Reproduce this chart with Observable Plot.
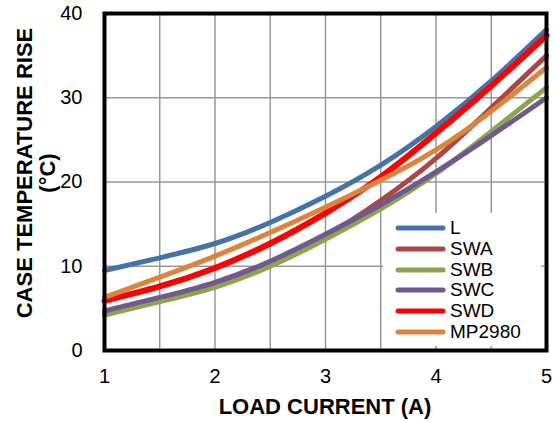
<!DOCTYPE html>
<html><head><meta charset="utf-8">
<script src="https://cdn.jsdelivr.net/npm/d3@7"></script>
<script src="https://cdn.jsdelivr.net/npm/@observablehq/plot@0.6"></script>
<style>
body{margin:0;background:#fff;font-family:Arial,"Liberation Sans",sans-serif;}
#wrap{position:relative;width:557px;height:423px;overflow:hidden;}
#xt{position:absolute;left:104px;width:442px;top:394px;text-align:center;font-weight:bold;font-size:22px;line-height:26px;color:#000;}
#yt{position:absolute;left:36px;top:173px;width:340px;transform:translate(-50%,-50%) rotate(-90deg);text-align:center;font-weight:bold;font-size:22px;line-height:23px;color:#000;}
#legend{position:absolute;left:383px;top:213px;width:158px;height:133px;background:#fff;}
.row{position:absolute;left:0;height:20px;display:flex;align-items:center;font-size:19px;color:#000;}
</style></head><body><div id="wrap"></div>
<script>
const current = [1, 1.5, 2, 2.5, 3, 3.5, 4, 4.5, 5];
const seriesNames = ["L", "SWA", "SWB", "SWC", "SWD", "MP2980"];
const L      = [9.5, 11.0, 12.7, 15.2, 18.3, 22.0, 26.6, 32.0, 38.1];
const SWA    = [4.3, 5.9, 7.7, 10.3, 13.6, 17.8, 22.8, 28.8, 35.0];
const SWB    = [4.2, 5.8, 7.5, 10.0, 13.2, 16.8, 21.0, 26.0, 31.2];
const SWC    = [4.7, 6.3, 8.1, 10.6, 13.8, 17.3, 21.2, 25.5, 30.0];
const SWD    = [5.9, 7.6, 9.8, 12.7, 16.3, 20.6, 25.8, 31.4, 37.4];
const MP2980 = [6.3, 8.7, 11.2, 14.0, 17.0, 20.2, 23.8, 28.4, 33.6];
const colors = ["#4572A7", "#AA4643", "#89A54E", "#71588F", "#FF0000", "#DB843D"];
const xTicks = [1, 2, 3, 4, 5];
const yTicks = [0, 10, 20, 30, 40];
const xGrid = [1.5, 2, 2.5, 3, 3.5, 4, 4.5];

const values = [L, SWA, SWB, SWC, SWD, MP2980];
const data = [];
seriesNames.forEach((s, i) => current.forEach((c, j) => data.push({series: s, x: c, y: values[i][j]})));

const lineMarks = seriesNames.map((s, i) =>
  Plot.line(data.filter(d => d.series === s), {x: "x", y: "y", stroke: colors[i], strokeWidth: s === "SWD" ? 6 : 5, curve: "natural"})
);

const chart = Plot.plot({
  width: 557, height: 423,
  marginLeft: 104, marginRight: 11, marginTop: 13, marginBottom: 73,
  style: {fontSize: "20px", fontFamily: "Arial, 'Liberation Sans', sans-serif", color: "#000", background: "#fff"},
  x: {domain: [1, 5]},
  y: {domain: [0, 40]},
  marks: [
    Plot.gridX(xGrid, {stroke: "#999", strokeOpacity: 1, strokeWidth: 1.5}),
    Plot.gridY(yTicks, {stroke: "#999", strokeOpacity: 1, strokeWidth: 1.5}),
    ...lineMarks,
    Plot.frame({stroke: "#000", strokeWidth: 4}),
    Plot.axisX(xTicks, {tickSize: 0, tickPadding: 18, label: null, fill: "#000"}),
    Plot.axisY(yTicks, {tickSize: 0, tickPadding: 22, label: null, fill: "#000"})
  ]
});
const wrap = document.getElementById("wrap");
wrap.appendChild(chart);

const xt = document.createElement("div"); xt.id = "xt"; xt.textContent = "LOAD CURRENT (A)"; wrap.appendChild(xt);
const yt = document.createElement("div"); yt.id = "yt"; yt.innerHTML = "CASE TEMPERATURE RISE<br>(°C)"; wrap.appendChild(yt);

const lg = document.createElement("div"); lg.id = "legend";
seriesNames.forEach((s, i) => {
  const r = document.createElement("div"); r.className = "row";
  r.style.top = (5 + i * 20.8) + "px";
  r.innerHTML = `<svg width="67" height="20" style="flex:none"><line x1="15" y1="10" x2="60" y2="10" stroke="${colors[i]}" stroke-width="5" stroke-linecap="round"/></svg><span>${s}</span>`;
  lg.appendChild(r);
});
wrap.appendChild(lg);
</script></body></html>
